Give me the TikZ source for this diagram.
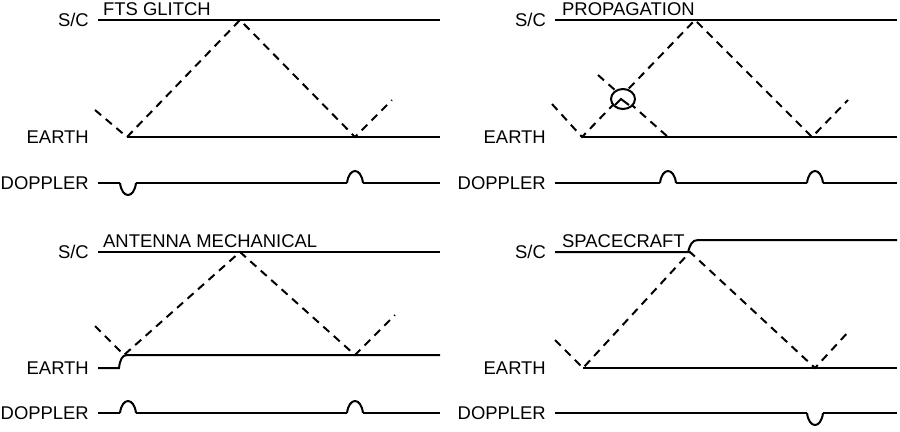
\documentclass[tikz,border=0pt]{standalone}
\usepackage{fontspec}
\setmainfont{Liberation Sans}
\begin{document}
\begin{tikzpicture}[x=1bp,y=-1bp,
  sig/.style={line width=2bp},
  ray/.style={line width=2bp,dash pattern=on 8bp off 6bp},
  lbl/.style={anchor=east,inner sep=0pt,font=\fontsize{18.5}{18.5}\selectfont},
  ttl/.style={anchor=south west,inner sep=0pt,font=\fontsize{18.5}{18.5}\selectfont}]
\useasboundingbox (0,0) rectangle (900,431);
\tikzset{bump/.pic={\draw[sig] (-8,0) .. controls (-6,-16) and (6,-16) .. (8,0);},
         dip/.pic={\draw[sig] (-8,0) .. controls (-6,16) and (6,16) .. (8,0);}}
% Panel 1
\node[lbl] (sc1) at (89,20) {S/C};
\node[lbl] (e1) at (89,137) {EARTH};
\node[lbl] (d1) at (89,183) {DOPPLER};
\node[ttl] (t1) at (103,16) {FTS GLITCH};
\draw[sig] (98,20) -- (440,20);
\draw[sig] (127,137) -- (440,137);
\draw[sig] (98,183) -- (120,183) (136,183) -- (347,183) (363,183) -- (440,183);
\pic at (128,183) {dip}; \pic at (355,183) {bump};
\draw[ray] (95,110) -- (127,137) -- (240,20) -- (355,137) -- (392,100);
% Panel 2
\node[lbl] (sc2) at (546,20) {S/C};
\node[lbl] (e2) at (546,137) {EARTH};
\node[lbl] (d2) at (546,183) {DOPPLER};
\node[ttl] (t2) at (562,16) {PROPAGATION};
\draw[sig] (555,20) -- (897,20);
\draw[sig] (582,137) -- (897,137);
\draw[sig] (555,183) -- (660,183) (676,183) -- (807,183) (823,183) -- (897,183);
\pic at (668,183) {bump}; \pic at (815,183) {bump};
\draw[ray] (552,104) -- (582,137) -- (695,20) -- (812,137) -- (848,100);
\draw[ray] (598,75) -- (668,137);
\draw[sig,fill=white] (623,99) ellipse (12bp and 10bp);
\draw[sig] (615,105) -- (621,99) -- (629,105);
% Panel 3
\node[lbl] (sc3) at (89,252) {S/C};
\node[lbl] (e3) at (89,368) {EARTH};
\node[lbl] (d3) at (89,413) {DOPPLER};
\node[ttl] (t3) at (103,248) {ANTENNA MECHANICAL};
\draw[sig] (98,252) -- (440,252);
\draw[sig] (98,368) -- (119,368) .. controls (120,360) and (122,355) .. (127,355) -- (440,355);
\draw[sig] (98,413) -- (120,413) (136,413) -- (347,413) (363,413) -- (440,413);
\pic at (128,413) {bump}; \pic at (355,413) {bump};
\draw[ray] (95,326) -- (124,355) -- (240,252) -- (355,355) -- (395,315);
% Panel 4
\node[lbl] (sc4) at (546,252) {S/C};
\node[lbl] (e4) at (546,368) {EARTH};
\node[lbl] (d4) at (546,413) {DOPPLER};
\node[ttl] (t4) at (562,248) {SPACECRAFT};
\draw[sig] (555,252) -- (688,252) .. controls (690,245) and (692,240) .. (698,240) -- (897,240);
\draw[sig] (583,368) -- (897,368);
\draw[sig] (555,413) -- (807,413) (823,413) -- (897,413);
\pic at (815,413) {dip};
\draw[ray] (555,340) -- (583,368) -- (690,252) -- (815,368) -- (850,330);
\end{tikzpicture}
\end{document}
